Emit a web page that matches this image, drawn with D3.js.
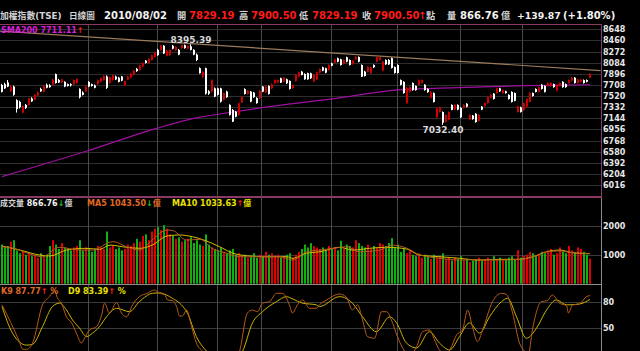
<!DOCTYPE html>
<html>
<head>
<meta charset="utf-8">
<script src="https://cdn.jsdelivr.net/npm/d3@7"></script>
<style>
  html, body { margin: 0; padding: 0; background: #000; }
  svg { display: block; }
  text { font-family: "DejaVu Sans", "Noto Sans CJK TC", sans-serif; font-weight: bold; }
</style>
</head>
<body>
<svg id="chart" width="640" height="351"></svg>
<script>
// daily candles, [open, high, low, close]
var candles = [
  [7707,7725,7580,7590],[7720,7745,7640,7650],[7750,7790,7670,7680],[7600,7700,7590,7680],[7680,7695,7525,7540],
  [7450,7465,7240,7300],[7420,7440,7310,7330],[7240,7360,7225,7350],[7370,7385,7300,7320],[7370,7490,7360,7480],
  [7480,7500,7420,7430],[7460,7550,7450,7540],[7530,7600,7520,7580],[7640,7660,7590,7600],[7590,7700,7580,7690],
  [7710,7730,7650,7660],[7700,7720,7660,7670],[7710,7810,7700,7800],[7890,7900,7730,7740],[7790,7810,7740,7750],
  [7745,7810,7740,7800],[7760,7770,7670,7680],[7720,7730,7680,7690],[7720,7735,7680,7700],[7720,7800,7710,7790],
  [7740,7820,7730,7810],[7640,7650,7480,7500],[7580,7600,7530,7540],[7595,7700,7590,7680],[7760,7770,7670,7680],
  [7720,7730,7680,7690],[7700,7715,7650,7660],[7720,7800,7710,7790],[7760,7830,7750,7820],[7790,7870,7780,7860],
  [7850,7870,7640,7660],[7740,7850,7730,7840],[7790,7880,7780,7870],[7850,7865,7790,7800],[7830,7845,7750,7760],
  [7850,7860,7770,7780],[7700,7780,7690,7770],[7800,7860,7790,7850],[7830,7910,7820,7900],[7880,7960,7870,7950],
  [7980,7995,7930,7940],[7960,8050,7950,8040],[8020,8090,8010,8080],[8120,8130,8070,8080],[8080,8160,8070,8150],
  [8130,8220,8120,8210],[8180,8270,8170,8260],[8300,8320,8200,8210],[8300,8385,8290,8380],[8370,8380,8230,8240],
  [8200,8300,8190,8290],[8210,8310,8200,8300],[8370,8385,8310,8320],[8290,8360,8280,8350],[8300,8315,8210,8220],
  [8330,8390,8320,8385],[8380,8390,8320,8330],[8320,8375,8310,8370],[8360,8395.39,8290,8300],[8300,8310,8210,8220],
  [8220,8240,8110,8130],[7990,8005,7900,7905],[7845,7940,7830,7930],[7990,8000,7545,7560],[7600,7620,7540,7560],
  [7595,7800,7580,7790],[7650,7665,7500,7510],[7650,7660,7530,7540],[7650,7660,7410,7425],[7455,7580,7440,7570],
  [7595,7610,7490,7500],[7370,7380,7190,7200],[7285,7300,7080,7088],[7255,7270,7160,7170],[7200,7410,7190,7398],
  [7410,7520,7400,7510],[7635,7650,7545,7555],[7555,7620,7545,7610],[7595,7605,7415,7425],[7578,7590,7490,7500],
  [7487,7500,7390,7400],[7483,7620,7470,7610],[7680,7690,7585,7595],[7578,7690,7570,7680],[7690,7700,7545,7555],
  [7650,7730,7640,7720],[7735,7800,7725,7792],[7746,7800,7740,7792],[7820,7830,7740,7746],[7763,7840,7755,7830],
  [7803,7815,7725,7735],[7775,7785,7630,7640],[7652,7715,7645,7708],[7775,7885,7765,7876],[7848,7930,7840,7922],
  [7932,7945,7870,7876],[7893,7905,7795,7803],[7905,7915,7795,7803],[7905,7915,7810,7820],[7763,7885,7755,7876],
  [7803,7930,7795,7922],[7915,7985,7905,7977],[8006,8015,7940,7949],[7989,7998,7905,7915],[7961,8055,7950,8045],
  [8073,8085,8025,8033],[8084,8150,8075,8141],[8158,8170,8090,8101],[8141,8150,8035,8045],[8062,8140,8055,8129],
  [8175,8185,8090,8101],[8129,8140,8035,8045],[8062,8125,8050,8118],[8141,8190,8130,8185],[8180,8190.6,8090,8101],
  [8045,8055,7840,7847],[7932,7945,7850,7859],[7932,8025,7920,8017],[7905,8015,7895,8006],[8045,8055,7995,8006],
  [8101,8185,8090,8178],[8129,8188,8120,8180],[7949,8110,7940,8101],[8129,8140,8045,8057],[8130,8145,8045,8055],
  [8160,8170,7985,7995],[8010,8020,7900,7910],[8045,8055,7900,7910],[7790,7800,7700,7710],[7760,7770,7560,7570],
  [7400,7670,7390,7660],[7590,7680,7580,7670],[7740,7750,7610,7620],[7690,7700,7610,7620],[7710,7800,7700,7790],
  [7740,7800,7730,7790],[7710,7720,7610,7620],[7640,7650,7575,7585],[7490,7600,7480,7590],[7570,7580,7410,7420],
  [7160,7320,7150,7310],[7250,7340,7240,7330],[7250,7260,7032.4,7070],[7080,7210,7070,7200],[7120,7260,7110,7250],
  [7370,7380,7280,7285],[7290,7380,7280,7370],[7370,7380,7280,7290],[7320,7330,7150,7160],[7320,7380,7310,7370],
  [7390,7400,7330,7340],[7120,7210,7110,7200],[7190,7200,7120,7130],[7220,7230,7070,7080],[7100,7210,7090,7200],
  [7340,7350,7280,7290],[7350,7410,7340,7400],[7400,7510,7390,7500],[7490,7550,7480,7540],[7560,7570,7460,7470],
  [7570,7660,7560,7650],[7650,7660,7590,7600],[7570,7630,7560,7620],[7600,7610,7560,7570],[7540,7550,7460,7470],
  [7590,7600,7410,7420],[7570,7580,7430,7440],[7250,7360,7240,7350],[7330,7340,7240,7250],[7280,7410,7270,7400],
  [7340,7480,7330,7470],[7420,7580,7410,7570],[7570,7580,7510,7520],[7640,7650,7580,7590],[7590,7680,7580,7670],
  [7710,7720,7630,7640],[7690,7700,7580,7590],[7690,7750,7680,7740],[7690,7750,7680,7740],[7720,7730,7660,7670],
  [7610,7720,7600,7710],[7690,7750,7680,7740],[7760,7770,7660,7670],[7720,7730,7660,7670],[7740,7800,7730,7790],
  [7780,7840,7770,7830],[7830,7840,7730,7740],[7740,7810,7730,7800],[7760,7810,7750,7800],[7790,7800,7730,7740],
  [7790,7800,7750,7760.63],[7829.19,7900.5,7829.19,7900.5]
];

// daily turnover (億)
var volume = [
  1350,1250,1300,1450,1500,1150,1050,1100,1000,1050,
  950,1000,900,1050,950,1000,1300,1500,1350,1200,
  1400,1250,1200,1150,1250,1300,1500,1150,1250,1200,
  1100,1200,1300,1250,1200,1800,1250,1300,1200,1250,
  1150,1200,1350,1300,1400,1550,1450,1650,1700,1500,
  1800,1900,1950,1850,2020,1900,1700,1650,1550,1600,
  1450,1500,1550,1600,1400,1500,1350,1300,1700,1350,
  1250,1200,1150,1250,1100,1050,1150,1200,1000,1050,
  950,1000,900,950,1050,900,1000,950,1100,1000,
  1050,950,1000,900,950,1000,1050,900,1000,1100,
  1200,1350,1250,1400,1300,1250,1200,1250,1150,1300,
  1200,1250,1150,1480,1200,1350,1300,1250,1500,1400,
  1300,1250,1350,1200,1300,1250,1400,1350,1300,1400,
  1570,1250,1350,1100,1200,1050,1150,1000,950,1050,
  900,1000,950,850,1000,900,950,1050,850,900,
  800,900,850,950,800,850,750,800,850,900,
  800,850,900,800,950,850,900,800,850,900,
  950,850,1150,900,950,1000,1100,1050,950,1000,
  1100,1050,1150,1200,1000,1050,1250,1100,1050,1300,
  1150,1100,1250,1200,1100,1000,866.76
];

// [day index, value] readings of the lines
var sma200 = [[0,6158],[28,6586],[51,6965],[66,7162],[72,7212],[86,7319],[110,7471],[132,7623],[152,7662],[174,7695],[196,7711.11]];
var trendLine = [[-0.8,8618],[199.5,7950]];
var volMA5 = [[0,1270],[4,1220],[8,1070],[13.5,930],[19,1255],[26,1160],[30,1160],[37,1450],[41.5,1275],[46,1160],[50,1505],[55,1850],[57,1830],[61.5,1505],[66,1530],[70,1220],[75,1050],[79,930],[86,930],[92.5,930],[97,815],[101.5,1100],[106,1160],[110.5,1220],[115,1275],[119,1100],[126,1160],[130,1330],[135,1220],[139,1000],[146,875],[152.5,815],[159,830],[166,815],[172.5,840],[177,930],[181.5,1100],[186,1130],[190,1070],[196,1043.5]];
var volMA10 = [[0,1300],[6,1160],[12.5,990],[16,955],[21.5,1160],[28,1220],[32.5,1185],[36,1330],[41.5,1255],[46,1220],[50,1330],[55,1645],[59,1680],[63.5,1620],[68,1480],[72.5,1275],[77,1050],[81.5,965],[88,930],[95,930],[97,875],[101.5,1050],[106,1100],[112.5,1255],[117,1160],[122.5,1220],[128,1255],[135,1195],[139,990],[146,930],[152.5,875],[159,815],[166,840],[172.5,840],[177,930],[181.5,1100],[186,1160],[190,1070],[196,1033.63]];
var kLine = [[0,77],[5.8,34],[6.8,25.5],[8.2,25],[10.2,32.5],[13.5,77],[15.8,86.6],[17.5,93.6],[18.5,85],[19.8,79],[21.5,63],[23.2,56],[24.8,44],[26.5,32.5],[27.5,38],[29.2,47.7],[31.5,51.6],[33.2,65],[34.2,79],[35.8,67.5],[38.2,79.6],[39.8,67.5],[41.5,63],[43.5,77],[45.8,86.6],[48.5,90.5],[50.8,94.4],[52.5,90.5],[54.2,89],[55.2,82.7],[56.8,82],[58.2,75],[59.2,64],[60.2,64],[61.5,71],[63.2,51.6],[64.8,32.5],[66.8,23],[70,12],[74,6],[77,8],[79.2,23],[81.8,67.5],[83.5,71],[85.2,69],[86.8,79],[89.2,80.8],[91.5,90.5],[93.5,90.5],[95.8,77],[96.8,67.5],[98.5,77],[100.2,82.7],[102.5,73],[104.8,73],[105.8,77],[108.2,82.7],[112.5,89.7],[114.8,86],[116.8,71],[118.5,77],[120.2,59.4],[121.8,40],[124.2,38],[126.5,69],[128.2,69],[129.8,59.4],[131.8,40],[134.2,23],[136,18],[138.2,28],[140.2,45.7],[142.5,47.7],[144.2,36],[145.8,24.4],[148,20],[149.8,28],[151.5,41.9],[153.5,47.7],[155.2,71],[156.8,51.6],[158.5,34],[160.2,47.7],[163.5,80.8],[166.5,90.5],[168.2,89],[170.2,67.5],[172.5,32.5],[174.2,23],[175.5,20],[176.8,47.7],[179.8,80.8],[181.8,82],[183.5,88.6],[185.8,79],[188.2,76],[188.8,67.5],[190.2,77],[192.5,78],[194.8,86.6],[196,87.77]];
var dLine = [[0,75],[3.5,44],[8.2,30],[10.2,31],[13.5,51.6],[16.8,75],[19.2,79],[21.5,71],[23.5,59.4],[25.8,50],[28.2,40],[30.2,44],[32.5,51.6],[34.8,63],[38.2,73],[42.5,69],[45.8,80.8],[50.2,90.5],[52.5,91],[54.8,88.6],[56.8,84.7],[59.8,77],[61.8,67.5],[64.8,40],[68.2,23],[72,15],[77,12],[80.2,23],[83.5,56],[86.8,69],[91.5,80.8],[94.8,86.6],[96.8,84],[100.2,79],[104.8,77],[105.8,75],[112.5,86.6],[116.8,79],[120.2,63],[124.8,45.7],[129.2,63],[131.5,56],[134.8,32.5],[138.2,26.7],[142.5,45.7],[145.8,32.5],[149.2,24.4],[152.5,40],[155.8,56],[159.2,44],[162.5,63],[166.5,80.8],[168.5,84.7],[171.5,63],[174.8,38],[178.2,50],[181.5,71],[184.8,82.7],[188.2,77],[192.5,78],[196,83.39]];

// first trading day of each month (Nov .. Jul)
var monthStarts = [29, 52, 72, 87, 110, 132, 153, 174];
var priceTicks = [8648,8460,8272,8084,7896,7708,7520,7332,7144,6956,6768,6580,6392,6204,6016];
var volTicks = [2000, 1000];
var kdTicks = [80, 50];

var svg = d3.select("#chart");
var W = 640, plotRight = 601;
var main = { top: 25, bottom: 197 }, vol = { top: 198, bottom: 284 }, kd = { top: 285, bottom: 351 };

var x = d3.scaleLinear().domain([0, candles.length - 1]).range([2, 2 + 3 * (candles.length - 1)]);
var y = d3.scaleLinear().domain([6016, 8648]).range([185, 29.3]);
var yv = d3.scaleLinear().domain([0, 2000]).range([283.7, 225.7]);
var yk = d3.scaleLinear().domain([50, 80]).range([328, 302.3]);

svg.append("rect").attr("width", W).attr("height", 351).attr("fill", "#000");

var defs = svg.append("defs");
[["clipMain", main], ["clipVol", vol], ["clipKd", kd]].forEach(function (c) {
  defs.append("clipPath").attr("id", c[0]).append("rect")
    .attr("x", 0).attr("y", c[1].top).attr("width", plotRight).attr("height", c[1].bottom - c[1].top);
});

// horizontal grid
svg.append("g").selectAll("line").data(priceTicks).enter().append("line")
  .attr("x1", 0).attr("x2", plotRight)
  .attr("y1", function (d) { return Math.round(y(d)) + 0.5; }).attr("y2", function (d) { return Math.round(y(d)) + 0.5; })
  .attr("stroke", "#2e2e2e");
svg.append("g").selectAll("line").data(volTicks).enter().append("line")
  .attr("x1", 0).attr("x2", plotRight)
  .attr("y1", function (d) { return Math.round(yv(d)) + 0.5; }).attr("y2", function (d) { return Math.round(yv(d)) + 0.5; })
  .attr("stroke", "#3a3a3a");
svg.append("g").selectAll("line").data(kdTicks).enter().append("line")
  .attr("x1", 0).attr("x2", plotRight)
  .attr("y1", function (d) { return Math.round(yk(d)) + 0.5; }).attr("y2", function (d) { return Math.round(yk(d)) + 0.5; })
  .attr("stroke", "#3a3a3a");

// month grid
svg.append("g").selectAll("line").data(monthStarts).enter().append("line")
  .attr("x1", function (d) { return Math.round(x(d) - 1.5) + 0.5; })
  .attr("x2", function (d) { return Math.round(x(d) - 1.5) + 0.5; })
  .attr("y1", main.top).attr("y2", 351)
  .attr("stroke", "#4a4a4a");

// price panel
var gMain = svg.append("g").attr("clip-path", "url(#clipMain)");
var lineIdx = d3.line().x(function (d) { return x(d[0]); }).y(function (d) { return y(d[1]); });

gMain.append("path").datum(trendLine).attr("d", lineIdx)
  .attr("fill", "none").attr("stroke", "#9c7a5c").attr("stroke-width", 1.2);
gMain.append("path").datum(sma200).attr("d", lineIdx.curve(d3.curveMonotoneX))
  .attr("fill", "none").attr("stroke", "#a010a0").attr("stroke-width", 1.2);

function candleColor(d) { return d[3] >= d[0] ? "#d00000" : "#ffffff"; }
var cg = gMain.append("g").selectAll("g").data(candles).enter().append("g");
cg.append("line")
  .attr("x1", function (d, i) { return x(i) - 0.5; }).attr("x2", function (d, i) { return x(i) - 0.5; })
  .attr("y1", function (d) { return y(d[1]); }).attr("y2", function (d) { return y(d[2]); })
  .attr("stroke", candleColor).attr("stroke-width", 1);
cg.append("rect")
  .attr("x", function (d, i) { return x(i) - 1; }).attr("width", 2)
  .attr("y", function (d) { return y(Math.max(d[0], d[3])); })
  .attr("height", function (d) { return Math.max(1, Math.abs(y(d[0]) - y(d[3]))); })
  .attr("fill", candleColor);

// high / low labels
var hiIdx = d3.maxIndex(candles, function (d) { return d[1]; });
var loIdx = d3.minIndex(candles.slice(100), function (d) { return d[2]; }) + 100;
svg.append("text").attr("x", x(hiIdx)).attr("y", y(candles[hiIdx][1]) - 1.5)
  .attr("text-anchor", "middle").attr("font-size", 9).attr("fill", "#d8d8d8")
  .text(d3.format(".2f")(candles[hiIdx][1]));
svg.append("text").attr("x", x(loIdx)).attr("y", y(candles[loIdx][2]) + 8.5)
  .attr("text-anchor", "middle").attr("font-size", 9).attr("fill", "#d8d8d8")
  .text(d3.format(".2f")(candles[loIdx][2]));

// volume panel
var gVol = svg.append("g").attr("clip-path", "url(#clipVol)");
gVol.selectAll("rect").data(volume).enter().append("rect")
  .attr("x", function (d, i) { return x(i) - 1; }).attr("width", 2)
  .attr("y", function (d) { return yv(d); })
  .attr("height", function (d) { return yv(0) - yv(d); })
  .attr("fill", function (d, i) { return candles[i][3] >= candles[i][0] ? "#e00000" : "#10b010"; });
var lineVol = d3.line().x(function (d) { return x(d[0]); }).y(function (d) { return yv(d[1]); }).curve(d3.curveMonotoneX);
gVol.append("path").datum(volMA10).attr("d", lineVol).attr("fill", "none").attr("stroke", "#d4c000").attr("stroke-width", 1);
gVol.append("path").datum(volMA5).attr("d", lineVol).attr("fill", "none").attr("stroke", "#b05a20").attr("stroke-width", 1);

// KD panel
var gKd = svg.append("g").attr("clip-path", "url(#clipKd)");
var lineKd = d3.line().x(function (d) { return x(d[0]); }).y(function (d) { return yk(d[1]); }).curve(d3.curveMonotoneX);
gKd.append("path").datum(dLine).attr("d", lineKd).attr("fill", "none").attr("stroke", "#c8b400").attr("stroke-width", 1);
gKd.append("path").datum(kLine).attr("d", lineKd).attr("fill", "none").attr("stroke", "#b85a18").attr("stroke-width", 1);

// frames
svg.append("line").attr("x1", 0).attr("x2", plotRight + 1).attr("y1", 24.5).attr("y2", 24.5).attr("stroke", "#8a3a62");
svg.append("line").attr("x1", plotRight + 0.5).attr("x2", plotRight + 0.5).attr("y1", 24).attr("y2", 197).attr("stroke", "#8a3a62");
svg.append("line").attr("x1", 0).attr("x2", plotRight + 1).attr("y1", 197).attr("y2", 197).attr("stroke", "#8a3a62").attr("stroke-width", 2);
svg.append("line").attr("x1", plotRight + 0.5).attr("x2", plotRight + 0.5).attr("y1", 198).attr("y2", 351).attr("stroke", "#8c8c8c");
svg.append("line").attr("x1", 0).attr("x2", plotRight + 1).attr("y1", 284.5).attr("y2", 284.5).attr("stroke", "#8c8c8c");

// axis labels
function axisLabels(ticks, scale) {
  svg.append("g").selectAll("text").data(ticks).enter().append("text")
    .attr("x", 603).attr("y", function (d) { return scale(d) + 3; })
    .attr("font-size", 8).attr("fill", "#e8e8e8").text(function (d) { return d; });
}
axisLabels(priceTicks, y);
axisLabels(volTicks, yv);
axisLabels(kdTicks, yk);

// title row
var gray = "#d4d4d4", red = "#ff1a1a", white = "#f2f2f2";
var titleParts = [
  [0, "加權指數(TSE)", gray, 8.8], [69, "日線圖", gray, 8.6], [104, "2010/08/02", white, 10],
  [177, "開", gray, 9.2], [189, "7829.19", red, 10], [239, "高", gray, 9.2], [251, "7900.50", red, 10],
  [299, "低", gray, 9.2], [312, "7829.19", red, 10], [362, "收", gray, 9.2], [374, "7900.50", red, 10],
  [418, "↑", red, 10], [426, "點", gray, 9.2], [447, "量", gray, 9.2], [460, "866.76", white, 10],
  [501, "億", gray, 9.2], [517, "+139.87", white, 9.3], [563, "(+1.80%)", white, 10]
];
svg.append("g").selectAll("text").data(titleParts).enter().append("text")
  .attr("x", function (d) { return d[0]; }).attr("y", 19)
  .attr("font-size", function (d) { return d[3]; })
  .attr("fill", function (d) { return d[2]; }).text(function (d) { return d[1]; });

// legends
function legend(xPos, yPos, parts) {
  var t = svg.append("text").attr("x", xPos).attr("y", yPos).attr("font-size", 8);
  parts.forEach(function (p) { t.append("tspan").attr("fill", p[1]).text(p[0]); });
}
legend(1, 32.5, [["SMA200 7711.11", "#d81ed8"], ["↑", red]]);
legend(0, 206, [["成交量 ", gray], ["866.76", white], ["↓", "#20c020"], ["億", gray]]);
legend(87, 206, [["MA5 1043.50", "#e06a22"], ["↓", "#20c020"], ["億", "#e06a22"]]);
legend(172, 206, [["MA10 1033.63", "#e8e000"], ["↑", red], ["億", "#e8e000"]]);
legend(1, 294, [["K9 87.77", "#e06a22"], ["↑", red], [" %", "#e06a22"]]);
legend(68, 294, [["D9 83.39", "#e8e000"], ["↑", red], [" %", "#e8e000"]]);
</script>
</body>
</html>
